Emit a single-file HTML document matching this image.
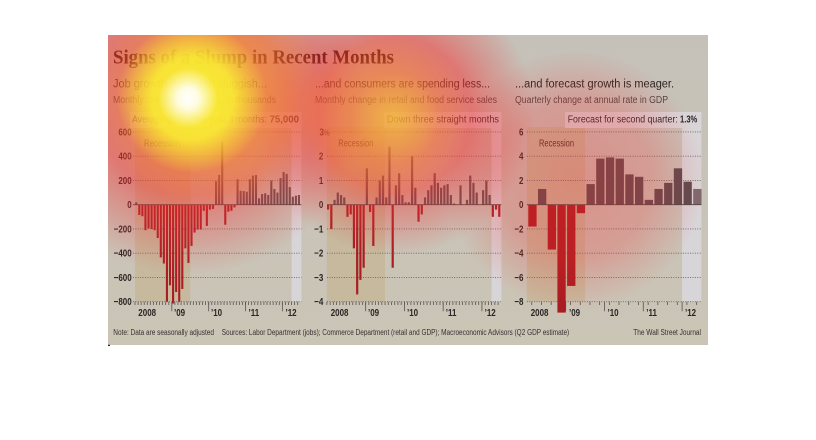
<!DOCTYPE html>
<html><head><meta charset="utf-8"><style>
html,body{margin:0;padding:0;background:#fff;width:816px;height:440px;overflow:hidden}
svg{display:block}
</style></head><body>
<svg width="816" height="440" viewBox="0 0 816 440" xmlns="http://www.w3.org/2000/svg" font-family="'Liberation Sans', sans-serif">
<defs>
<linearGradient id="bg" x1="0" y1="0" x2="0" y2="1"><stop offset="0" stop-color="#c5c1b9"/><stop offset="1" stop-color="#cbc5b6"/></linearGradient>
<radialGradient id="rRed"><stop offset="0" stop-color="#fa2828" stop-opacity=".55"/><stop offset=".55" stop-color="#fa2828" stop-opacity=".48"/><stop offset=".8" stop-color="#f03a3a" stop-opacity=".24"/><stop offset="1" stop-color="#f03a3a" stop-opacity="0"/></radialGradient>
<radialGradient id="rRedC"><stop offset="0" stop-color="#fa2828" stop-opacity=".32"/><stop offset=".6" stop-color="#fa2828" stop-opacity=".24"/><stop offset="1" stop-color="#fa2828" stop-opacity="0"/></radialGradient>
<radialGradient id="rOrA"><stop offset="0" stop-color="#f59a30" stop-opacity=".6"/><stop offset=".5" stop-color="#f59a30" stop-opacity=".55"/><stop offset="1" stop-color="#f59a30" stop-opacity="0"/></radialGradient>
<radialGradient id="rOrB"><stop offset="0" stop-color="#f5b030" stop-opacity=".5"/><stop offset=".5" stop-color="#f5b030" stop-opacity=".35"/><stop offset="1" stop-color="#f5b030" stop-opacity="0"/></radialGradient>
<radialGradient id="rYeA"><stop offset="0" stop-color="#faf232" stop-opacity=".95"/><stop offset=".55" stop-color="#faf232" stop-opacity=".85"/><stop offset="1" stop-color="#faf232" stop-opacity="0"/></radialGradient>
<radialGradient id="rYeB"><stop offset="0" stop-color="#f2e040" stop-opacity=".45"/><stop offset="1" stop-color="#f2e040" stop-opacity="0"/></radialGradient>
<radialGradient id="rWh"><stop offset="0" stop-color="#ffffff" stop-opacity="1"/><stop offset=".35" stop-color="#ffffff" stop-opacity=".85"/><stop offset="1" stop-color="#ffffff" stop-opacity="0"/></radialGradient>
<clipPath id="frame"><rect x="108" y="35" width="600" height="310"/></clipPath>
</defs>

<rect x="108" y="35" width="600" height="310" fill="url(#bg)"/>
<rect x="108" y="344.8" width="2" height="1.2" fill="#222"/>

<g fill="#c6b99d">
<rect x="135" y="127" width="55.3" height="174.7"/>
<rect x="326.9" y="127" width="58.1" height="174.7"/>
<rect x="526.9" y="127" width="58.2" height="174.7"/>
</g>
<g fill="#d8d5d8">
<rect x="130" y="112" width="171.4" height="16"/>
<rect x="291.6" y="112" width="9.8" height="189.7"/>
<rect x="384" y="112" width="117.4" height="16"/>
<rect x="491.6" y="112" width="9.8" height="189.7"/>
<rect x="565" y="112" width="136.4" height="16"/>
<rect x="682.1" y="112" width="19.3" height="189.7"/>
</g>

<g stroke="#6b6260" stroke-width=".9" stroke-dasharray="1 1.4" fill="none">
<path d="M133 131.95H301.4M133 156.2H301.4M133 180.45H301.4M133 228.95H301.4M133 253.2H301.4M133 277.45H301.4M133 301.7H301.4"/>
<path d="M327 131.95H501.4M327 156.2H501.4M327 180.45H501.4M327 228.95H501.4M327 253.2H501.4M327 277.45H501.4M327 301.7H501.4"/>
<path d="M526.9 131.95H701.4M526.9 156.2H701.4M526.9 180.45H701.4M526.9 228.95H701.4M526.9 253.2H701.4M526.9 277.45H701.4M526.9 301.7H701.4"/>
</g>

<g stroke="#5a5252" stroke-width=".8" fill="none">
<path d="M135 301.7v3.3m3.07-3.3v3.3m3.07-3.3v3.3m3.07-3.3v3.3m3.07-3.3v3.3m3.07-3.3v3.3m3.07-3.3v3.3m3.07-3.3v3.3m3.07-3.3v3.3m3.07-3.3v3.3m3.07-3.3v3.3m3.07-3.3v3.3m3.07-3.3v3.3m3.07-3.3v3.3m3.07-3.3v3.3m3.07-3.3v3.3m3.07-3.3v3.3m3.07-3.3v3.3m3.07-3.3v3.3m3.07-3.3v3.3m3.07-3.3v3.3m3.07-3.3v3.3m3.07-3.3v3.3m3.07-3.3v3.3m3.07-3.3v3.3m3.07-3.3v3.3m3.07-3.3v3.3m3.07-3.3v3.3m3.07-3.3v3.3m3.07-3.3v3.3m3.07-3.3v3.3m3.07-3.3v3.3m3.07-3.3v3.3m3.07-3.3v3.3m3.07-3.3v3.3m3.07-3.3v3.3m3.07-3.3v3.3m3.07-3.3v3.3m3.07-3.3v3.3m3.07-3.3v3.3m3.07-3.3v3.3m3.07-3.3v3.3m3.07-3.3v3.3m3.07-3.3v3.3m3.07-3.3v3.3m3.07-3.3v3.3m3.07-3.3v3.3m3.07-3.3v3.3m3.07-3.3v3.3m3.07-3.3v3.3m3.07-3.3v3.3m3.07-3.3v3.3m3.07-3.3v3.3m3.07-3.3v3.3"/>
<path d="M326.9 301.7v3.3m3.23-3.3v3.3m3.23-3.3v3.3m3.23-3.3v3.3m3.23-3.3v3.3m3.23-3.3v3.3m3.23-3.3v3.3m3.23-3.3v3.3m3.23-3.3v3.3m3.23-3.3v3.3m3.23-3.3v3.3m3.23-3.3v3.3m3.23-3.3v3.3m3.23-3.3v3.3m3.23-3.3v3.3m3.23-3.3v3.3m3.23-3.3v3.3m3.23-3.3v3.3m3.23-3.3v3.3m3.23-3.3v3.3m3.23-3.3v3.3m3.23-3.3v3.3m3.23-3.3v3.3m3.23-3.3v3.3m3.23-3.3v3.3m3.23-3.3v3.3m3.23-3.3v3.3m3.23-3.3v3.3m3.23-3.3v3.3m3.23-3.3v3.3m3.23-3.3v3.3m3.23-3.3v3.3m3.23-3.3v3.3m3.23-3.3v3.3m3.23-3.3v3.3m3.23-3.3v3.3m3.23-3.3v3.3m3.23-3.3v3.3m3.23-3.3v3.3m3.23-3.3v3.3m3.23-3.3v3.3m3.23-3.3v3.3m3.23-3.3v3.3m3.23-3.3v3.3m3.23-3.3v3.3m3.23-3.3v3.3m3.23-3.3v3.3m3.23-3.3v3.3m3.23-3.3v3.3m3.23-3.3v3.3m3.23-3.3v3.3m3.23-3.3v3.3m3.23-3.3v3.3m3.23-3.3v3.3"/>
<path d="M531.75 301.7v3.3m9.7-3.3v3.3m9.7-3.3v3.3m9.7-3.3v3.3m9.7-3.3v3.3m9.7-3.3v3.3m9.7-3.3v3.3m9.7-3.3v3.3m9.7-3.3v3.3m9.7-3.3v3.3m9.7-3.3v3.3m9.7-3.3v3.3m9.7-3.3v3.3m9.7-3.3v3.3m9.7-3.3v3.3m9.7-3.3v3.3m9.7-3.3v3.3m9.7-3.3v3.3"/>
<path d="M171.84 301.7v9.5M208.68 301.7v9.5M245.52 301.7v9.5M282.36 301.7v9.5M365.66 301.7v9.5M404.42 301.7v9.5M443.18 301.7v9.5M481.94 301.7v9.5M565.7 301.7v9.5M604.5 301.7v9.5M643.3 301.7v9.5M682.1 301.7v9.5"/>
</g>

<g fill="#aa1d22">
<rect x="138.27" y="204.7" width="2.1" height="10.31"/>
<rect x="141.34" y="204.7" width="2.1" height="11.52"/>
<rect x="144.41" y="204.7" width="2.1" height="25.46"/>
<rect x="147.48" y="204.7" width="2.1" height="23.64"/>
<rect x="150.55" y="204.7" width="2.1" height="24.25"/>
<rect x="153.62" y="204.7" width="2.1" height="25.46"/>
<rect x="156.69" y="204.7" width="2.1" height="33.34"/>
<rect x="159.76" y="204.7" width="2.1" height="52.74"/>
<rect x="162.83" y="204.7" width="2.1" height="58.81"/>
<rect x="165.9" y="204.7" width="2.1" height="97"/>
<rect x="168.97" y="204.7" width="2.1" height="80.63"/>
<rect x="172.04" y="204.7" width="2.1" height="98.82"/>
<rect x="175.11" y="204.7" width="2.1" height="87.3"/>
<rect x="178.18" y="204.7" width="2.1" height="97"/>
<rect x="181.25" y="204.7" width="2.1" height="84.27"/>
<rect x="184.32" y="204.7" width="2.1" height="43.65"/>
<rect x="187.39" y="204.7" width="2.1" height="58.2"/>
<rect x="190.46" y="204.7" width="2.1" height="41.23"/>
<rect x="193.53" y="204.7" width="2.1" height="27.89"/>
<rect x="196.6" y="204.7" width="2.1" height="24.86"/>
<rect x="199.67" y="204.7" width="2.1" height="24.86"/>
<rect x="202.74" y="204.7" width="2.1" height="6.06"/>
<rect x="205.81" y="204.7" width="2.1" height="21.22"/>
<rect x="208.88" y="204.7" width="2.1" height="4.85"/>
<rect x="211.95" y="204.7" width="2.1" height="4.24"/>
<rect x="224.23" y="204.7" width="2.1" height="20.01"/>
<rect x="227.3" y="204.7" width="2.1" height="7.03"/>
<rect x="230.37" y="204.7" width="2.1" height="6.06"/>
<rect x="233.44" y="204.7" width="2.1" height="2.67"/>
</g>
<g fill="#5d4f52">
<rect x="135.2" y="202.27" width="2.1" height="2.43"/>
<rect x="215.02" y="181.06" width="2.1" height="23.64"/>
<rect x="218.09" y="174.99" width="2.1" height="29.71"/>
<rect x="221.16" y="141.65" width="2.1" height="63.05"/>
<rect x="236.51" y="179.24" width="2.1" height="25.46"/>
<rect x="239.58" y="190.76" width="2.1" height="13.94"/>
<rect x="242.65" y="191" width="2.1" height="13.7"/>
<rect x="245.72" y="191.73" width="2.1" height="12.97"/>
<rect x="248.79" y="179.24" width="2.1" height="25.46"/>
<rect x="251.86" y="175.6" width="2.1" height="29.1"/>
<rect x="254.93" y="174.99" width="2.1" height="29.71"/>
<rect x="258" y="198.39" width="2.1" height="6.31"/>
<rect x="261.07" y="194.03" width="2.1" height="10.67"/>
<rect x="264.14" y="193.3" width="2.1" height="11.4"/>
<rect x="267.21" y="195" width="2.1" height="9.7"/>
<rect x="270.28" y="180.45" width="2.1" height="24.25"/>
<rect x="273.35" y="188.94" width="2.1" height="15.76"/>
<rect x="276.42" y="192.57" width="2.1" height="12.13"/>
<rect x="279.49" y="178.02" width="2.1" height="26.68"/>
<rect x="282.56" y="171.96" width="2.1" height="32.74"/>
<rect x="285.63" y="173.78" width="2.1" height="30.92"/>
<rect x="288.7" y="187.12" width="2.1" height="17.58"/>
<rect x="291.77" y="196.7" width="2.1" height="8"/>
<rect x="294.84" y="195.61" width="2.1" height="9.09"/>
<rect x="297.91" y="195" width="2.1" height="9.7"/>
</g>

<g fill="#aa1d22">
<rect x="327" y="204.7" width="2.2" height="4.85"/>
<rect x="330.23" y="204.7" width="2.2" height="24.25"/>
<rect x="346.38" y="204.7" width="2.2" height="12.13"/>
<rect x="349.61" y="204.7" width="2.2" height="9.7"/>
<rect x="352.84" y="204.7" width="2.2" height="43.65"/>
<rect x="356.07" y="204.7" width="2.2" height="89.73"/>
<rect x="359.3" y="204.7" width="2.2" height="75.18"/>
<rect x="362.53" y="204.7" width="2.2" height="63.05"/>
<rect x="368.99" y="204.7" width="2.2" height="7.28"/>
<rect x="372.22" y="204.7" width="2.2" height="41.23"/>
<rect x="391.6" y="204.7" width="2.2" height="63.05"/>
<rect x="417.44" y="204.7" width="2.2" height="16.98"/>
<rect x="420.67" y="204.7" width="2.2" height="9.7"/>
<rect x="491.73" y="204.7" width="2.2" height="12.13"/>
<rect x="494.96" y="204.7" width="2.2" height="4.85"/>
<rect x="498.19" y="204.7" width="2.2" height="12.13"/>
</g>
<g fill="#5d4f52">
<rect x="333.46" y="199.85" width="2.2" height="4.85"/>
<rect x="336.69" y="192.57" width="2.2" height="12.13"/>
<rect x="339.92" y="195" width="2.2" height="9.7"/>
<rect x="343.15" y="197.42" width="2.2" height="7.28"/>
<rect x="365.76" y="168.32" width="2.2" height="36.38"/>
<rect x="375.45" y="197.42" width="2.2" height="7.28"/>
<rect x="378.68" y="180.45" width="2.2" height="24.25"/>
<rect x="381.91" y="175.6" width="2.2" height="29.1"/>
<rect x="385.14" y="197.42" width="2.2" height="7.28"/>
<rect x="388.37" y="146.5" width="2.2" height="58.2"/>
<rect x="394.83" y="185.3" width="2.2" height="19.4"/>
<rect x="398.06" y="173.17" width="2.2" height="31.53"/>
<rect x="401.29" y="195" width="2.2" height="9.7"/>
<rect x="404.52" y="202.27" width="2.2" height="2.43"/>
<rect x="407.75" y="202.27" width="2.2" height="2.43"/>
<rect x="410.98" y="156.2" width="2.2" height="48.5"/>
<rect x="414.21" y="187.72" width="2.2" height="16.98"/>
<rect x="423.9" y="197.42" width="2.2" height="7.28"/>
<rect x="427.13" y="190.15" width="2.2" height="14.55"/>
<rect x="430.36" y="185.3" width="2.2" height="19.4"/>
<rect x="433.59" y="173.17" width="2.2" height="31.53"/>
<rect x="436.82" y="182.87" width="2.2" height="21.83"/>
<rect x="440.05" y="187.72" width="2.2" height="16.98"/>
<rect x="443.28" y="185.3" width="2.2" height="19.4"/>
<rect x="446.51" y="184.09" width="2.2" height="20.61"/>
<rect x="449.74" y="195" width="2.2" height="9.7"/>
<rect x="452.97" y="203.5" width="2.2" height="1.2"/>
<rect x="459.43" y="185.3" width="2.2" height="19.4"/>
<rect x="465.89" y="199.85" width="2.2" height="4.85"/>
<rect x="469.12" y="175.6" width="2.2" height="29.1"/>
<rect x="472.35" y="182.87" width="2.2" height="21.83"/>
<rect x="475.58" y="192.57" width="2.2" height="12.13"/>
<rect x="482.04" y="190.15" width="2.2" height="14.55"/>
<rect x="485.27" y="180.45" width="2.2" height="24.25"/>
<rect x="488.5" y="195" width="2.2" height="9.7"/>
</g>

<g fill="#a81c22">
<rect x="528.3" y="204.7" width="8.3" height="21.83"/>
<rect x="547.7" y="204.7" width="8.3" height="44.86"/>
<rect x="557.4" y="204.7" width="8.3" height="107.91"/>
<rect x="567.1" y="204.7" width="8.3" height="81.24"/>
<rect x="576.8" y="204.7" width="8.3" height="8.49"/>
</g>
<g fill="#5a4c50">
<rect x="538" y="188.94" width="8.3" height="15.76"/>
<rect x="586.5" y="184.09" width="8.3" height="20.61"/>
<rect x="596.2" y="158.62" width="8.3" height="46.08"/>
<rect x="605.9" y="157.41" width="8.3" height="47.29"/>
<rect x="615.6" y="158.62" width="8.3" height="46.08"/>
<rect x="625.3" y="174.39" width="8.3" height="30.31"/>
<rect x="635" y="176.81" width="8.3" height="27.89"/>
<rect x="644.7" y="199.85" width="8.3" height="4.85"/>
<rect x="654.4" y="188.94" width="8.3" height="15.76"/>
<rect x="664.1" y="182.87" width="8.3" height="21.83"/>
<rect x="673.8" y="168.32" width="8.3" height="36.38"/>
<rect x="683.5" y="181.66" width="8.3" height="23.04"/>
</g>
<rect x="693.2" y="188.94" width="8.3" height="15.76" fill="#7d6a6e"/>

<g stroke="#4a4444" stroke-width=".8">
<path d="M133 204.7H301.4M327 204.7H501.4M526.9 204.7H701.4"/>
</g>

<g font-size="10" font-weight="bold" fill="#2a2424" text-anchor="end">
<text transform="translate(131.7 135.3) scale(.8 1)">600</text>
<text transform="translate(131.7 159.5) scale(.8 1)">400</text>
<text transform="translate(131.7 183.8) scale(.8 1)">200</text>
<text transform="translate(131.7 208) scale(.8 1)">0</text>
<text transform="translate(131.7 232.3) scale(.8 1)">−200</text>
<text transform="translate(131.7 256.5) scale(.8 1)">−400</text>
<text transform="translate(131.7 280.8) scale(.8 1)">−600</text>
<text transform="translate(131.7 305) scale(.8 1)">−800</text>

<text transform="translate(323.3 159.5) scale(.8 1)">2</text>
<text transform="translate(323.3 183.8) scale(.8 1)">1</text>
<text transform="translate(323.3 208) scale(.8 1)">0</text>
<text transform="translate(323.3 232.3) scale(.8 1)">−1</text>
<text transform="translate(323.3 256.5) scale(.8 1)">−2</text>
<text transform="translate(323.3 280.8) scale(.8 1)">−3</text>
<text transform="translate(323.3 305) scale(.8 1)">−4</text>

<text transform="translate(523.5 135.3) scale(.8 1)">6</text>
<text transform="translate(523.5 159.5) scale(.8 1)">4</text>
<text transform="translate(523.5 183.8) scale(.8 1)">2</text>
<text transform="translate(523.5 208) scale(.8 1)">0</text>
<text transform="translate(523.5 232.3) scale(.8 1)">−2</text>
<text transform="translate(523.5 256.5) scale(.8 1)">−4</text>
<text transform="translate(523.5 280.8) scale(.8 1)">−6</text>
<text transform="translate(523.5 305) scale(.8 1)">−8</text>
</g>
<text transform="translate(319.5 135.3) scale(.8 1)" font-size="10" font-weight="bold" fill="#2a2424">3<tspan font-size="8" font-weight="normal">%</tspan></text>

<g font-size="10" font-weight="bold" fill="#2a2424">
<text transform="translate(138.3 316) scale(.8 1)">2008</text>
<text transform="translate(174 316) scale(.8 1)">’09</text>
<text transform="translate(211 316) scale(.8 1)">’10</text>
<text transform="translate(248.5 316) scale(.8 1)">’11</text>
<text transform="translate(285.5 316) scale(.8 1)">’12</text>

<text transform="translate(330.7 316) scale(.8 1)">2008</text>
<text transform="translate(368 316) scale(.8 1)">’09</text>
<text transform="translate(407 316) scale(.8 1)">’10</text>
<text transform="translate(445.8 316) scale(.8 1)">’11</text>
<text transform="translate(484.6 316) scale(.8 1)">’12</text>

<text transform="translate(530.7 316) scale(.8 1)">2008</text>
<text transform="translate(569 316) scale(.8 1)">’09</text>
<text transform="translate(607.5 316) scale(.8 1)">’10</text>
<text transform="translate(646.3 316) scale(.8 1)">’11</text>
<text transform="translate(685 316) scale(.8 1)">’12</text>
</g>

<g font-size="10" fill="#4a2e26">
<text x="144" y="146.7" textLength="36" lengthAdjust="spacingAndGlyphs">Recession</text>
<text x="338.3" y="146.7" textLength="35" lengthAdjust="spacingAndGlyphs">Recession</text>
<text x="539" y="146.7" textLength="35" lengthAdjust="spacingAndGlyphs">Recession</text>
</g>

<text x="113" y="63.5" font-family="'Liberation Serif', serif" font-weight="bold" font-size="19.5" fill="#1e100c" textLength="281" lengthAdjust="spacingAndGlyphs">Signs of a Slump in Recent Months</text>

<g font-size="11.5" fill="#2a2424">
<text x="113" y="87.3" textLength="154" lengthAdjust="spacingAndGlyphs">Job growth has been sluggish...</text>
<text x="315" y="87.3" textLength="175" lengthAdjust="spacingAndGlyphs">...and consumers are spending less...</text>
<text x="515" y="87.3" textLength="159" lengthAdjust="spacingAndGlyphs">...and forecast growth is meager.</text>
</g>
<g font-size="10" fill="#4d4545">
<text x="113" y="103" textLength="163" lengthAdjust="spacingAndGlyphs">Monthly change in U.S. jobs, in thousands</text>
<text x="315" y="103" textLength="182" lengthAdjust="spacingAndGlyphs">Monthly change in retail and food service sales</text>
<text x="515" y="103" textLength="153" lengthAdjust="spacingAndGlyphs">Quarterly change at annual rate in GDP</text>
</g>

<g font-size="10" fill="#2a2424">
<text x="132" y="122.3" textLength="135" lengthAdjust="spacingAndGlyphs">Average gain in the past 3 months:</text>
<text x="269.5" y="122.3" font-weight="bold" textLength="29.5" lengthAdjust="spacingAndGlyphs">75,000</text>
<text x="387" y="122.3" textLength="112" lengthAdjust="spacingAndGlyphs">Down three straight months</text>
<text x="567.7" y="122.3" textLength="110" lengthAdjust="spacingAndGlyphs">Forecast for second quarter:</text>
<text x="680" y="122.3" font-weight="bold" textLength="17.3" lengthAdjust="spacingAndGlyphs">1.3%</text>
</g>

<g font-size="8" fill="#363030">
<text x="113.3" y="335" textLength="100.7" lengthAdjust="spacingAndGlyphs">Note: Data are seasonally adjusted</text>
<text x="221.7" y="335" textLength="347.5" lengthAdjust="spacingAndGlyphs">Sources: Labor Department (jobs); Commerce Department (retail and GDP); Macroeconomic Advisors (Q2 GDP estimate)</text>
<text x="633.3" y="335" textLength="67.7" lengthAdjust="spacingAndGlyphs">The Wall Street Journal</text>
</g>

<g clip-path="url(#frame)">
<circle cx="190" cy="100" r="175" fill="url(#rRed)"/>
<circle cx="395" cy="115" r="140" fill="url(#rRed)"/>
<circle cx="575" cy="180" r="130" fill="url(#rRedC)"/>
<circle cx="210" cy="95" r="115" fill="url(#rOrA)"/>
<circle cx="385" cy="118" r="85" fill="url(#rOrB)"/>
<circle cx="192" cy="98" r="75" fill="url(#rYeA)"/>
<circle cx="395" cy="118" r="45" fill="url(#rYeB)"/>
<circle cx="188" cy="98" r="30" fill="url(#rWh)"/>
</g>
</svg>
</body></html>
